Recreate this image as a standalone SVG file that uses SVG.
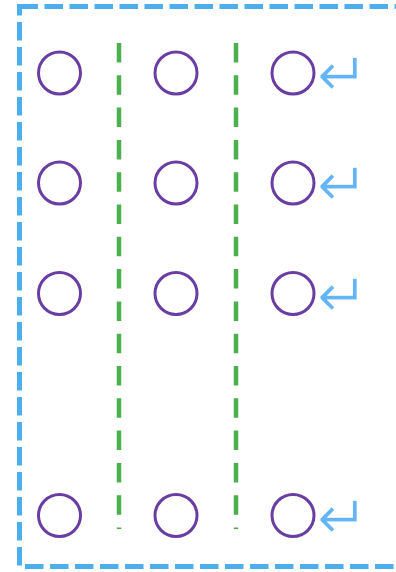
<svg xmlns="http://www.w3.org/2000/svg" width="396" height="572" viewBox="0 0 396 572">
<style>
.frame{fill:none;stroke:#4caeea;stroke-width:5;stroke-dasharray:18.5 6.5}
.sep{fill:none;stroke:#4caf50;stroke-width:4.5;stroke-dasharray:19.5 12.8}
.node{fill:#fff;stroke:#6a3da3;stroke-width:3}
.ret{font-family:"DejaVu Sans",sans-serif;font-size:62px;fill:#64b5f6;stroke:#fff;stroke-width:1.3}
</style>
<rect class="frame" x="19.5" y="6.5" width="382" height="560"/>
<g id="connectors">
<line class="sep" x1="119" y1="43" x2="119" y2="529"/>
<line class="sep" x1="236" y1="43" x2="236" y2="529"/>
</g>
<g id="n11"><circle class="node" cx="59.5" cy="73" r="21"/></g>
<g id="n12"><circle class="node" cx="176" cy="73" r="21"/></g>
<g id="n13"><circle class="node" cx="293" cy="73" r="21"/><text class="ret" x="316.5" y="96">↵</text></g>
<g id="n21"><circle class="node" cx="59.5" cy="183" r="21"/></g>
<g id="n22"><circle class="node" cx="176" cy="183" r="21"/></g>
<g id="n23"><circle class="node" cx="293" cy="183" r="21"/><text class="ret" x="316.5" y="206">↵</text></g>
<g id="n31"><circle class="node" cx="59.5" cy="293.5" r="21"/></g>
<g id="n32"><circle class="node" cx="176" cy="293.5" r="21"/></g>
<g id="n33"><circle class="node" cx="293" cy="293.5" r="21"/><text class="ret" x="316.5" y="316.5">↵</text></g>
<g id="n41"><circle class="node" cx="59.5" cy="515.5" r="21"/></g>
<g id="n42"><circle class="node" cx="176" cy="515.5" r="21"/></g>
<g id="n43"><circle class="node" cx="293" cy="515.5" r="21"/><text class="ret" x="316.5" y="538.5">↵</text></g>
</svg>
